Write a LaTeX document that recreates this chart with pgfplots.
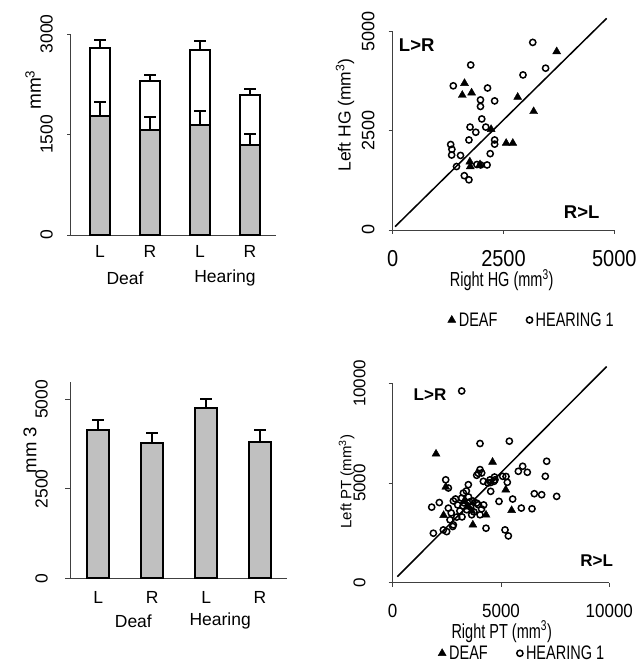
\documentclass[border=0pt]{standalone}
\usepackage{fontspec}
\setmainfont{Liberation Sans}
\usepackage{pgfplots}
\pgfplotsset{compat=1.18}
\definecolor{barg}{RGB}{192,192,192}
\newcommand{\fs}[1]{\fontsize{#1}{#1}\selectfont}
\newcommand{\tall}[2][1.4]{\scalebox{1}[#1]{#2}}
\pgfplotsset{
  panel/.style={
    anchor=south west, scale only axis, clip=false, scaled ticks=false,
    axis lines=left, axis line style={-, black!75, line width=0.8pt},
    tick align=outside, major tick length=4pt,
    tick style={black!75, line width=0.8pt},
    yticklabel style={rotate=90, anchor=south, inner sep=0pt},
    xticklabel style={anchor=north, inner sep=0pt},
  },
  scatterpanel/.style={panel,
    legend columns=2,
    legend image code/.code={\draw[##1] plot coordinates {(0.12cm,0cm)};},
    legend style={draw=none, fill=none, anchor=center, font=\fs{14.5},
      nodes={inner sep=3pt},
      /tikz/every even column/.append style={column sep=26pt}},
  },
  barerr/.style={error bars/.cd, y dir=plus, y explicit,
    error bar style={line width=2pt, black},
    error mark options={rotate=90, line width=2pt, mark size=6pt, black}},
  whitebar/.style={fill=white, draw=black, line width=2.2pt, bar shift=0pt, barerr},
  graybar/.style={fill=barg, draw=black, line width=2.2pt, bar shift=0pt, barerr},
  deaf/.style={only marks, mark=triangle*, mark size=4.6pt, black},
  hear/.style={only marks, mark=o, mark size=3.1pt, black, mark options={line width=1.5pt}},
}
\begin{document}
\begin{tikzpicture}
\useasboundingbox (0,0) rectangle (644pt,666pt);

% top left: HG volumes, grey part inside the total
\begin{axis}[panel, at={(70pt,431pt)}, width=206pt, height=201pt,
  xmin=0.4, xmax=4.52, ymin=0, ymax=3000, ybar, bar width=20pt,
  ytick={0,1500,3000}, yticklabels={0,1500,3000},
  xtick={1,2,3,4}, xticklabels={L,R,L,R}, x tick style={draw=none},
  major tick length=3pt,
  yticklabel shift=14pt, xticklabel shift=7pt,
  tick label style={font=\fs{17.5}},
]
\addplot[whitebar] coordinates {(1,2790) +- (0,125) (2,2302) +- (0,90) (3,2765) +- (0,125) (4,2093) +- (0,84)};
\addplot[graybar] coordinates {(1,1779) +- (0,204) (2,1570) +- (0,189) (3,1644) +- (0,214) (4,1340) +- (0,165)};
\node[font=\fs{17.5}] at (axis cs:1.5,0) [yshift=-43pt] {Deaf};
\node[font=\fs{17.5}] at (axis cs:3.5,0) [yshift=-43pt] {Hearing};
\end{axis}

% top right: HG scatter
\begin{axis}[scatterpanel, at={(392.7pt,436pt)}, width=221.6pt, height=198.3pt,
  xmin=0, xmax=5000, ymin=0, ymax=5000,
  xtick={0,2500,5000}, xticklabels={\tall[1.15]{0},\tall[1.15]{2500},\tall[1.15]{5000}},
  ytick={0,2500,5000}, yticklabels={0,2500,5000},
  yticklabel shift=14pt, xticklabel shift=16pt,
  xticklabel style={font=\fs{20}}, yticklabel style={font=\fs{18}},
  legend style={at={(rel axis cs:0.63,-0.454)}},
]
\addplot[black, line width=1.5pt, forget plot] coordinates {(53,84) (4827,5336)};
\addplot[deaf] coordinates {(3700,4500) (1620,3700) (1570,3400) (1780,3460) (2820,3350) (3180,2990) (2220,2540) (2560,2190) (2710,2190) (1740,1720) (1750,1600) (1970,1650)};
\addlegendentry{\tall[1.35]{DEAF}}
\addplot[hear] coordinates {(3160,4730) (3450,4080) (2940,3910) (1760,4160) (1367,3635) (2140,3580) (2300,3255) (1980,3280) (1980,3115) (2010,2800) (1745,2595) (1875,2465) (2100,2595) (1720,2270) (2300,2270) (2300,2165) (1308,2155) (1335,2035) (1330,1890) (1530,1880) (1440,1600) (2200,1925) (2130,1640) (1985,1640) (1616,1370) (1720,1265) (1900,1650)};
\addlegendentry{\tall[1.35]{HEARING 1}}
\node[font=\bfseries\fs{18.5}] at (axis cs:541,4664) {L>R};
\node[font=\bfseries\fs{18.5}] at (axis cs:4263,462) {R>L};
\end{axis}

% bottom left: PT volumes
\begin{axis}[panel, at={(70pt,87.7pt)}, width=217pt, height=196.6pt,
  xmin=0.475, xmax=4.5, ymin=0, ymax=5494, ybar, bar width=22pt,
  ytick={0,2500,5000}, yticklabels={0,2500,5000},
  xtick={1,2,3,4}, xticklabels={L,R,L,R}, x tick style={draw=none},
  major tick length=5pt,
  yticklabel shift=17pt, xticklabel shift=8pt,
  tick label style={font=\fs{17.5}},
]
\addplot[graybar] coordinates {(1,4143) +- (0,270) (2,3771) +- (0,279) (3,4749) +- (0,260) (4,3818) +- (0,325)};
\node[font=\fs{17.5}] at (axis cs:1.65,0) [yshift=-43pt] {Deaf};
\node[font=\fs{17.5}] at (axis cs:3.26,0) [yshift=-43pt] {Hearing};
\end{axis}

% bottom right: PT scatter
\begin{axis}[scatterpanel, at={(392.7pt,83.3pt)}, width=216.6pt, height=199.4pt,
  xmin=0, xmax=10000, ymin=0, ymax=10000,
  xtick={0,5000,10000}, xticklabels={\tall[1.12]{0},\tall[1.12]{5000},\tall[1.12]{10000}},
  ytick={0,5000,10000}, yticklabels={0,5000,10000},
  yticklabel shift=23pt, xticklabel shift=17pt,
  xticklabel style={font=\fs{17}}, yticklabel style={font=\fs{17}},
  legend style={at={(rel axis cs:0.6,-0.354)}},
]
\addplot[black, line width=1.5pt, forget plot] coordinates {(215,302) (9877,10839)};
\addplot[deaf] coordinates {(2000,6460) (4610,6050) (5220,4660) (5490,3630) (4308,3400) (3700,2900) (2450,4800) (2350,3380) (3500,3800) (3300,4100) (3650,3600)};
\addlegendentry{\tall[1.35]{DEAF}}
\addplot[hear] coordinates {(3185,9614) (4031,6980) (5385,7097) (7108,6091) (6000,5839) (6215,5537) (5800,5587) (7046,5336) (7569,4329) (6877,4413) (6538,4463) (6431,3708) (5938,3742) (5538,4195) (4908,4077) (5077,5336) (5292,5034) (4677,5084) (4523,4581) (4492,5160) (4185,5084) (4031,5671) (4108,5503) (3877,5386) (3954,5486) (3492,4916) (2447,5160) (2569,4748) (1800,3789) (2152,4020) (2569,3739) (1877,2482) (2338,2648) (2493,2563) (2769,2819) (2954,3289) (3185,4245) (3415,3658) (4308,2733) (5185,2648) (5339,2347) (3877,3993) (3646,3406) (4031,3406) (2646,3154) (3262,4497) (3954,3909) (2800,2900) (3000,3900) (3300,4000) (3600,3800) (3500,4300) (2800,4100) (3100,3600) (3700,4100) (4100,3700) (3400,4600) (2900,4200) (3250,3850) (3750,3550) (3550,4050) (2700,3500) (3200,3300) (4200,3900) (4700,5300) (4400,5000) (5231,5327) (4723,5160) (4524,5025)};
\addlegendentry{\tall[1.35]{HEARING 1}}
\node[font=\bfseries\fs{17}] at (axis cs:1723,9413) {L>R};
\node[font=\bfseries\fs{17}] at (axis cs:9415,1107) {R>L};
\end{axis}

% axis titles
\node[rotate=90, font=\fs{19}] at (33pt,576pt) {mm\textsuperscript{3}};
\node[rotate=90, font=\fs{17.5}] at (345pt,551pt) {Left HG (mm\textsuperscript{3})};
\node[font=\fs{14.5}] at (501.7pt,386pt) {\tall{Right HG (mm\textsuperscript{3})}};
\node[rotate=90, font=\fs{18.5}] at (30pt,216pt) {mm 3};
\node[rotate=90, font=\fs{15}] at (346.7pt,184.3pt) {Left PT (mm\textsuperscript{3})};
\node[font=\fs{14.5}] at (501.7pt,34.3pt) {\tall{Right PT (mm\textsuperscript{3})}};
\end{tikzpicture}
\end{document}
